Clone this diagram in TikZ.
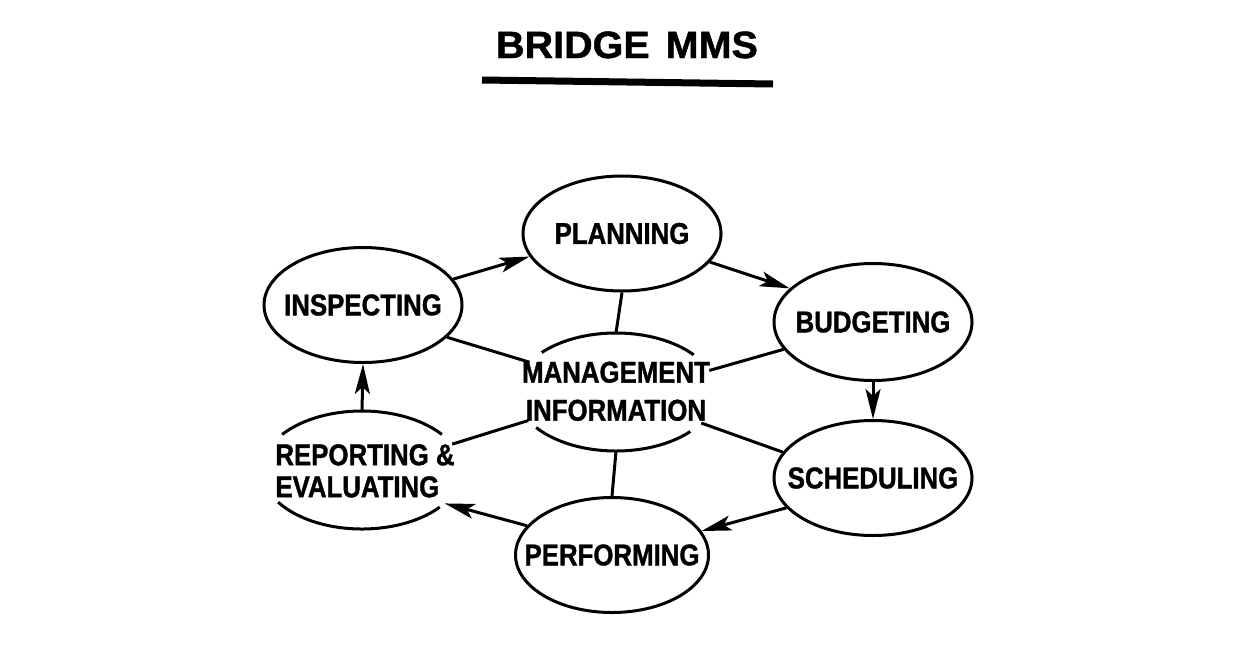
\documentclass[tikz,border=0pt]{standalone}
\usepackage{fontspec}
\setmainfont{Liberation Sans}
\newfontfamily\labfont{Liberation Sans}[FakeStretch=0.86,FakeBold=1.2]
\newfontfamily\titlefont{Liberation Sans}[FakeStretch=1.04,FakeBold=1.2]
\usetikzlibrary{shapes.geometric,arrows.meta}
\begin{document}
\begin{tikzpicture}[x=1pt,y=1pt,
  lw/.style={line width=3pt},
  bub/.style={ellipse, lw, draw, inner sep=0pt, minimum width=198pt, minimum height=115pt,
    font=\labfont\bfseries\fontsize{30}{38}\selectfont},
  openbub/.style={ellipse, inner sep=0pt, minimum width=200pt, minimum height=118pt,
    font=\labfont\bfseries\fontsize{30}{38}\selectfont},
  flow/.style={lw, -{Stealth[length=30pt,width=15pt,inset=7pt]}},
  spoke/.style={lw}]
\useasboundingbox[fill=white] (0,0) rectangle (1249,-654);

% title
\node[anchor=base, font=\titlefont\bfseries\fontsize{38}{40}\selectfont, inner sep=0pt] (title) at (627,-58) {BRIDGE\hspace{16pt}MMS};
\coordinate (ulA) at (482,-80);
\coordinate (ulB) at (773,-84);
\draw[line width=7pt] (ulA) -- (ulB);

% bubbles
\node[bub] (plan) at (622,-233.5) {\makebox[0pt]{PLANNING}};
\node[bub] (insp) at (363,-305) {\makebox[0pt]{INSPECTING}};
\node[bub, minimum height=117pt] (budg) at (873,-322) {\makebox[0pt]{BUDGETING}};
\node[bub] (sched) at (873,-478) {\makebox[0pt]{SCHEDULING}};
\node[bub, minimum width=193pt] (perf) at (612,-555) {\makebox[0pt]{PERFORMING}};
\node[openbub] (mi) at (616,-392) {\makebox[0pt]{\begin{tabular}{@{}c@{}}\rule{0pt}{30.6pt}MANAGEMENT\\INFORMATION\end{tabular}}};
\node[openbub, font=\labfont\bfseries\fontsize{30}{32}\selectfont] (rep) at (362,-470) {\makebox[0pt]{\hspace{6pt}\begin{tabular}{@{}l@{}}\rule{0pt}{32pt}REPORTING \&\\EVALUATING\end{tabular}}};

% open arcs
\draw[lw] (mi.center) ++(138:100 and 59) arc[start angle=138, end angle=39, x radius=100, y radius=59];
\draw[lw] (mi.center) ++(217:100 and 59) arc[start angle=217, end angle=318, x radius=100, y radius=59];
\draw[lw] (rep.center) ++(143:100 and 59) arc[start angle=143, end angle=37, x radius=100, y radius=59];
\draw[lw] (rep.center) ++(213:100 and 59) arc[start angle=213, end angle=321, x radius=100, y radius=59];

% cycle
\draw[flow] (insp.16) -- (plan.194);
\draw[flow] (plan.-18) -- (budg.158);
\draw[flow] (budg.south) -- (sched.north);
\draw[flow] (sched.199) -- (perf.15);
\draw[flow] (perf.161) -- (rep.-22);
\draw[flow] (rep.north) -- (insp.south);

% spokes
\draw[spoke] (plan.south) -- (mi.north);
\draw[spoke] (mi.south) -- (perf.north);
\draw[spoke] (insp.-21) -- (mi.161);
\draw[spoke] (budg.197) -- (mi.13);
\draw[spoke] (rep.16) -- (mi.198);
\draw[spoke] (sched.164) -- (mi.-20);
\end{tikzpicture}
\end{document}
